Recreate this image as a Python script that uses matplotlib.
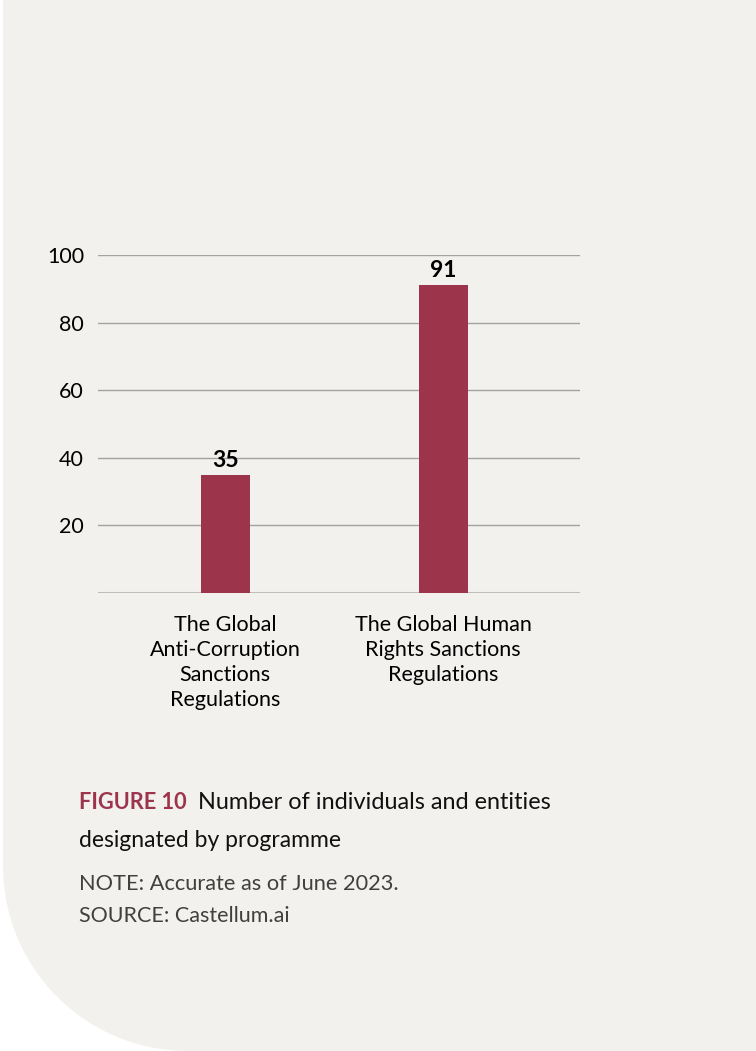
"""Bar chart: individuals and entities designated by programme (Figure 10)."""

import matplotlib.pyplot as plt
from matplotlib.path import Path
from matplotlib.patches import PathPatch
from matplotlib.transforms import Affine2D

plt.rcParams["font.family"] = ["Lato", "DejaVu Sans"]

categories = ["The Global\nAnti-Corruption\nSanctions\nRegulations",
              "The Global Human\nRights Sanctions\nRegulations"]
values = [35, 91]
yticks = [20, 40, 60, 80, 100]

BAR_COLOR = "#9c344c"
BG_COLOR = "#f2f1ed"
GRID_COLOR = "#a3a3a3"
BASE_COLOR = "#bfbdb8"

W, H = 756, 1051
fig = plt.figure(figsize=(W / 100, H / 100), dpi=100, facecolor="white")

# background panel with a rounded bottom-left corner (pixel coords, y down)
r = 185
k = 0.5523 * r
x0 = 3
verts = [(x0, 0), (x0, H - r),
         (x0, H - r + k), (x0 + r - k, H), (x0 + r, H),
         (W, H), (W, 0), (x0, 0)]
codes = [Path.MOVETO, Path.LINETO,
         Path.CURVE4, Path.CURVE4, Path.CURVE4,
         Path.LINETO, Path.LINETO, Path.CLOSEPOLY]
to_fig = Affine2D().scale(1 / W, -1 / H).translate(0, 1) + fig.transFigure
fig.patches.append(PathPatch(Path(verts, codes), facecolor=BG_COLOR,
                             edgecolor="none", transform=to_fig, zorder=-5))

ax = fig.add_axes([98 / W, 458 / H, 482 / W, 338 / H])
ax.set_facecolor("none")

x = range(len(categories))
bars = ax.bar(x, values, width=0.225, color=BAR_COLOR, zorder=3)
ax.bar_label(bars, padding=3, fontsize=16.5, fontweight="bold", color="black")

ax.set_xlim(-0.583, 1.628)
ax.set_ylim(0, 100)
ax.set_yticks(yticks)
ax.set_xticks(list(x))
ax.set_xticklabels(categories, fontsize=15.5, linespacing=1.33)
ax.tick_params(axis="x", length=0, pad=15.5)
ax.tick_params(axis="y", length=0, pad=10, labelsize=15.5)

ax.grid(axis="y", color=GRID_COLOR, linewidth=1.0, zorder=1)
ax.axhline(0, color=BASE_COLOR, linewidth=2.2, zorder=2)
for s in ax.spines.values():
    s.set_visible(False)

# caption
t1 = fig.text(79 / W, 1 - 809 / H, "FIGURE 10", fontsize=15.7, fontweight="bold",
              color=BAR_COLOR, va="baseline")
ax.annotate("Number of individuals and entities", xy=(1, 0), xycoords=t1,
            xytext=(8, 0), textcoords="offset points", fontsize=16.9,
            color="#111111", va="bottom", annotation_clip=False)
fig.text(79 / W, 1 - 847 / H, "designated by programme", fontsize=16.5,
         color="#111111", va="baseline")
fig.text(79 / W, 1 - 890 / H, "NOTE: Accurate as of June 2023.", fontsize=15.7,
         color="#404040", va="baseline")
fig.text(79 / W, 1 - 922 / H, "SOURCE: Castellum.ai", fontsize=15.5,
         color="#404040", va="baseline")

fig.savefig("out.png", dpi=100, facecolor="white")
